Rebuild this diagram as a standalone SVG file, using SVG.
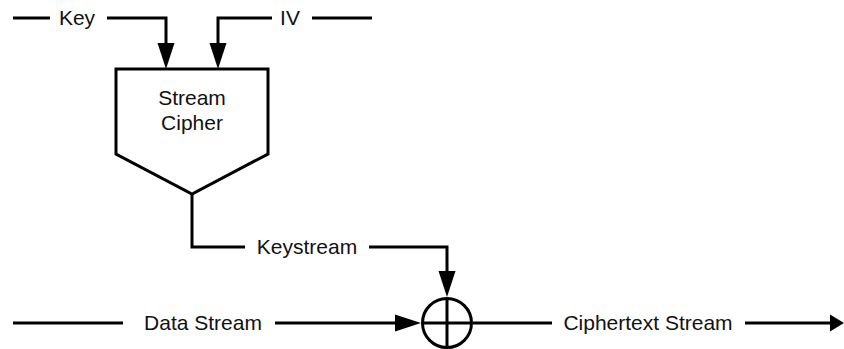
<svg xmlns="http://www.w3.org/2000/svg" width="844" height="349" viewBox="0 0 844 349">
<style>
.ln{fill:none;stroke:#000;stroke-width:3;stroke-linejoin:miter}
.ah{fill:#000;stroke:none}
text{font-family:"Liberation Sans",Arial,sans-serif;font-size:21px;fill:#111}
</style>
<rect width="844" height="349" fill="#fff"/>
<g id="connectors">
<path class="ln" d="M13 18H50"/>
<path class="ln" d="M107 18H166V45"/>
<polygon class="ah" points="157.5,43 174.5,43 166,69"/>
<path class="ln" d="M272 18H218V45"/>
<polygon class="ah" points="209.5,43 226.5,43 218,69"/>
<path class="ln" d="M312 18H372"/>
<path class="ln" d="M192 194V247H245"/>
<path class="ln" d="M369 247H447V272"/>
<polygon class="ah" points="438.5,271 455.5,271 447,297"/>
<path class="ln" d="M13 323H123"/>
<path class="ln" d="M275 323H397"/>
<polygon class="ah" points="395,314.5 395,331.5 421,323"/>
<path class="ln" d="M473 323H552"/>
<path class="ln" d="M745 323H832"/>
<polygon class="ah" points="830,314.5 830,331.5 844,323 844,323"/>
</g>
<g id="labels">
<text x="77" y="25" text-anchor="middle">Key</text>
<text x="290" y="25" text-anchor="middle">IV</text>
<text x="307" y="254" text-anchor="middle">Keystream</text>
<text x="203" y="330" text-anchor="middle">Data Stream</text>
<text x="648" y="330" text-anchor="middle">Ciphertext Stream</text>
</g>
<g id="stream-cipher">
<path class="ln" d="M116 69H268V154L192 194L116 154Z"/>
<text x="192" y="105" text-anchor="middle">Stream</text>
<text x="192" y="130" text-anchor="middle">Cipher</text>
</g>
<g id="xor">
<circle class="ln" cx="447" cy="323" r="24.5"/>
<path class="ln" d="M422.5 323H471.5M447 298.5V347.5"/>
</g>
</svg>
